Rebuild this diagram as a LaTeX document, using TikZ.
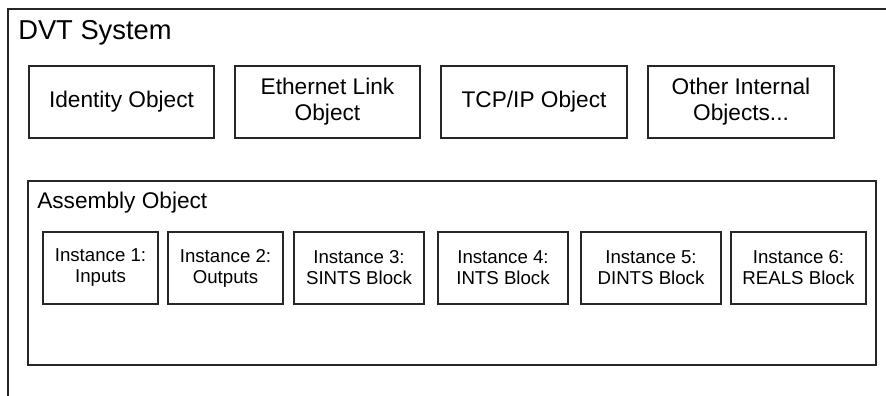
\documentclass[tikz,border=0pt]{standalone}
\usepackage{fontspec}
\setmainfont{Liberation Sans}
\begin{document}
\begin{tikzpicture}[x=0.75pt,y=-0.75pt,
  frame/.style={draw=black!85,line width=1.2pt},
  objbox/.style={draw=black!85,line width=1.1pt,inner sep=0pt,minimum height=54pt,
    align=center,font=\fontsize{17}{19.5}\selectfont},
  instbox/.style={draw=black!85,line width=1.1pt,inner sep=0pt,minimum height=54pt,
    align=center,font=\fontsize{14}{15.75}\selectfont},
  title/.style={inner sep=0pt,anchor=base west}]
\useasboundingbox (0,0) rectangle (886,396);

% outer system frame (open to the right and bottom)
\coordinate (sysTL) at (8,9);
\coordinate (sysTR) at (887,9);
\coordinate (sysBL) at (8,397);
\draw[frame] (sysBL) -- (sysTL) -- (sysTR);
\node[title,font=\fontsize{20.5}{24}\selectfont] (systitle) at (18,39) {DVT System};

% internal objects
\node[objbox,minimum width=138.75pt] (identity) at (121.5,102) {Identity Object};
\node[objbox,minimum width=138.75pt] (ethernet) at (327.5,102) {Ethernet Link\\Object};
\node[objbox,minimum width=139.5pt] (tcpip) at (534,102) {TCP/IP Object};
\node[objbox,minimum width=139.5pt] (other) at (741,102) {Other Internal\\Objects...};

% assembly object container
\node[draw=black!85,line width=1.1pt,inner sep=0pt,minimum width=636pt,minimum height=138pt]
  (assembly) at (452,273) {};
\node[title,font=\fontsize{17}{19.5}\selectfont] (asmtitle) at (37,208) {Assembly Object};

% assembly instances
\node[instbox,minimum width=86.25pt] (inst1) at (100.5,268) {Instance 1:\\Inputs};
\node[instbox,minimum width=86.25pt] (inst2) at (225.5,268) {Instance 2:\\Outputs};
\node[instbox,minimum width=97.5pt] (inst3) at (359,268) {Instance 3:\\SINTS Block};
\node[instbox,minimum width=97.5pt] (inst4) at (503,268) {Instance 4:\\INTS Block};
\node[instbox,minimum width=105pt] (inst5) at (651,268) {Instance 5:\\DINTS Block};
\node[instbox,minimum width=101.25pt] (inst6) at (798.5,268) {Instance 6:\\REALS Block};
\end{tikzpicture}
\end{document}
